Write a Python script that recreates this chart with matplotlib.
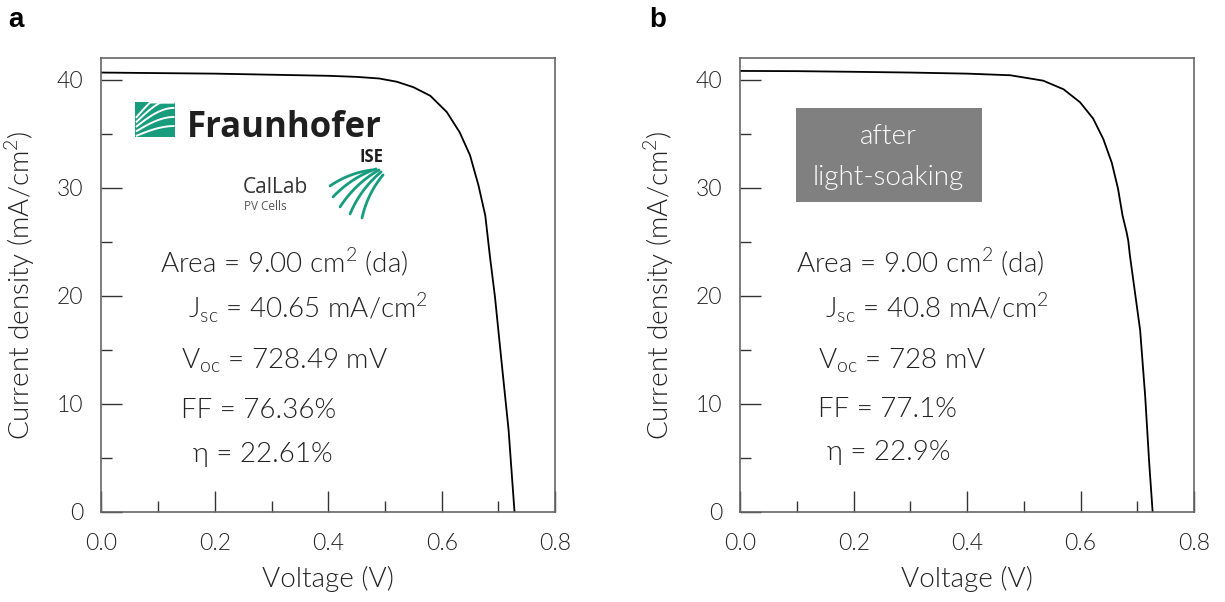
import matplotlib
matplotlib.use("Agg")
import matplotlib.pyplot as plt
import numpy as np
from matplotlib.patches import Rectangle
from matplotlib.ticker import MultipleLocator

# I-V curve, panel a (before) and b (after light-soaking)
volt_a = [0.0, 0.1, 0.2, 0.3, 0.4, 0.45, 0.49, 0.521, 0.55, 0.58, 0.609, 0.632, 0.65,
          0.665, 0.677, 0.685, 0.694, 0.706, 0.718, 0.7285]
curr_a = [40.65, 40.6, 40.55, 40.45, 40.35, 40.25, 40.1, 39.8, 39.3, 38.5, 37.0, 35.1, 33.0,
          30.2, 27.4, 23.7, 19.9, 13.7, 7.6, 0.0]

volt_b = [0.0, 0.1, 0.2, 0.3, 0.4, 0.476, 0.534, 0.57, 0.599, 0.622, 0.64, 0.655, 0.666,
          0.674, 0.681, 0.684, 0.687, 0.705, 0.714, 0.721, 0.727]
curr_b = [40.8, 40.78, 40.72, 40.65, 40.55, 40.4, 39.9, 39.1, 37.9, 36.4, 34.5, 32.3, 29.9,
          27.4, 25.9, 25.1, 23.7, 16.8, 10.6, 4.5, 0.0]

params_a = ["Area = 9.00 cm$^{\\mathregular{2}}$ (da)",
            "J$_{\\mathregular{sc}}$ = 40.65 mA/cm$^{\\mathregular{2}}$",
            "V$_{\\mathregular{oc}}$ = 728.49 mV",
            "FF = 76.36%",
            "\u03b7 = 22.61%"]
params_b = ["Area = 9.00 cm$^{\\mathregular{2}}$ (da)",
            "J$_{\\mathregular{sc}}$ = 40.8 mA/cm$^{\\mathregular{2}}$",
            "V$_{\\mathregular{oc}}$ = 728 mV",
            "FF = 77.1%",
            "\u03b7 = 22.9%"]

FONT = "Lato"
plt.rcParams["font.family"] = [FONT, "DejaVu Sans"]
plt.rcParams["font.weight"] = 300
plt.rcParams["axes.labelweight"] = 300

spine_col = "#666666"
text_col = "#222222"
green = "#179c7d"

fig = plt.figure(figsize=(12.25, 6.02), dpi=100)
ax_a = fig.add_axes([0.0828, 0.15, 0.3703, 0.7537])
ax_b = fig.add_axes([0.6044, 0.15, 0.3703, 0.7537])


def ax_frac(x_px, y_px):
    # pixel position inside panel a -> axes fraction
    return (x_px - 101.4) / 453.6, (511.7 - y_px) / 453.6


def style_axes(ax):
    ax.set_xlim(0, 0.8)
    ax.set_ylim(0, 42)
    ax.xaxis.set_major_locator(MultipleLocator(0.2))
    ax.xaxis.set_minor_locator(MultipleLocator(0.1))
    ax.yaxis.set_major_locator(MultipleLocator(10))
    ax.yaxis.set_minor_locator(MultipleLocator(5))
    ax.xaxis.set_major_formatter(plt.FormatStrFormatter("%.1f"))
    ax.tick_params(which="both", direction="in", top=False, right=False,
                   color="#333333", width=1.0, labelsize=16.5, labelcolor=text_col)
    ax.tick_params(which="major", length=15)
    ax.tick_params(which="minor", length=7.7)
    ax.tick_params(axis="x", pad=15)
    ax.tick_params(axis="y", pad=13)
    for s in ax.spines.values():
        s.set_color(spine_col)
        s.set_linewidth(1.2)
    ax.set_xlabel("Voltage (V)", fontsize=20, color=text_col)
    ax.set_ylabel("Current density (mA/cm$^{\\mathregular{2}}$)", fontsize=20, color=text_col)
    ax.xaxis.set_label_coords(0.5, -0.12)
    ax.yaxis.set_label_coords(-0.143, 0.5)


def put_params(ax, lines, xs, ys):
    for s, x, y in zip(lines, xs, ys):
        ax.text(x, y, s, transform=ax.transAxes, fontsize=20, color=text_col,
                ha="left", va="baseline")


for ax, v, j in [(ax_a, volt_a, curr_a), (ax_b, volt_b, curr_b)]:
    style_axes(ax)
    ax.plot(v, j, color="black", lw=1.3)

put_params(ax_a, params_a, [0.129, 0.191, 0.176, 0.176, 0.202],
           [0.528, 0.429, 0.317, 0.207, 0.11])
put_params(ax_b, params_b, [0.1226, 0.186, 0.171, 0.171, 0.191],
           [0.528, 0.429, 0.317, 0.209, 0.114])

# Fraunhofer ISE CalLab logo (panel a)
ax_a.add_patch(Rectangle((0.074, 0.826), 0.088, 0.077, transform=ax_a.transAxes,
                         facecolor=green, edgecolor="none", zorder=3))
t = np.linspace(0, 1, 30)
for k in range(5):
    y0 = 0.828 + k * 0.010
    xs = 0.076 + 0.085 * t
    ys = y0 + (0.022 + 0.010 * k) * np.sin(t * np.pi / 2)
    ys = np.clip(ys, 0.826, 0.902)
    ax_a.plot(xs, ys, color="white", lw=1.4, transform=ax_a.transAxes, zorder=4,
              solid_capstyle="butt")
ax_a.text(0.189, 0.826, "Fraunhofer", transform=ax_a.transAxes, fontsize=25,
          fontweight="bold", family="Open Sans", color="#1f1f1f", va="baseline")
ax_a.text(0.621, 0.771, "ISE", transform=ax_a.transAxes, fontsize=12,
          fontweight="bold", family="Open Sans", color="#1f1f1f", ha="right", va="baseline")
ax_a.text(0.312, 0.702, "CalLab", transform=ax_a.transAxes, fontsize=15,
          family="Open Sans", fontweight="normal", color="#333333", va="baseline")
ax_a.text(0.314, 0.666, "PV Cells", transform=ax_a.transAxes, fontsize=8.5,
          family="Open Sans", fontweight="normal", color="#555555", va="baseline")
# green swoosh strokes fanning from the upper right
starts = [(372, 170), (376, 169), (379, 170), (381, 172), (383, 175)]
ends = [(330, 186), (333, 197), (340, 207), (350, 214), (362, 218)]
for (x0, y0), (x1, y1) in zip(starts, ends):
    p0 = np.array(ax_frac(x0, y0))
    p1 = np.array(ax_frac(x1, y1))
    mid = (p0 + p1) / 2
    d = p1 - p0
    nrm = np.array([d[1], -d[0]]) * 0.12
    ctrl = mid + nrm
    pts = ((1 - t) ** 2)[:, None] * p0 + (2 * (1 - t) * t)[:, None] * ctrl + (t ** 2)[:, None] * p1
    ax_a.plot(pts[:, 0], pts[:, 1], color=green, lw=2.0, transform=ax_a.transAxes,
              zorder=3, solid_capstyle="round")

# label box (panel b)
ax_b.add_patch(Rectangle((0.1226, 0.683), 0.41, 0.207, transform=ax_b.transAxes,
                         facecolor="#808080", edgecolor="none", zorder=3))
ax_b.text(0.327, 0.826, "after", transform=ax_b.transAxes, fontsize=20, color="white",
          ha="center", va="center", zorder=4)
ax_b.text(0.327, 0.736, "light-soaking", transform=ax_b.transAxes, fontsize=20,
          color="white", ha="center", va="center", zorder=4)

fig.text(0.007, 0.955, "a", fontsize=20, fontweight="bold", family="Liberation Sans",
         color="black")
fig.text(0.530, 0.955, "b", fontsize=20, fontweight="bold", family="Liberation Sans",
         color="black")

fig.savefig("out.png", dpi=100)
